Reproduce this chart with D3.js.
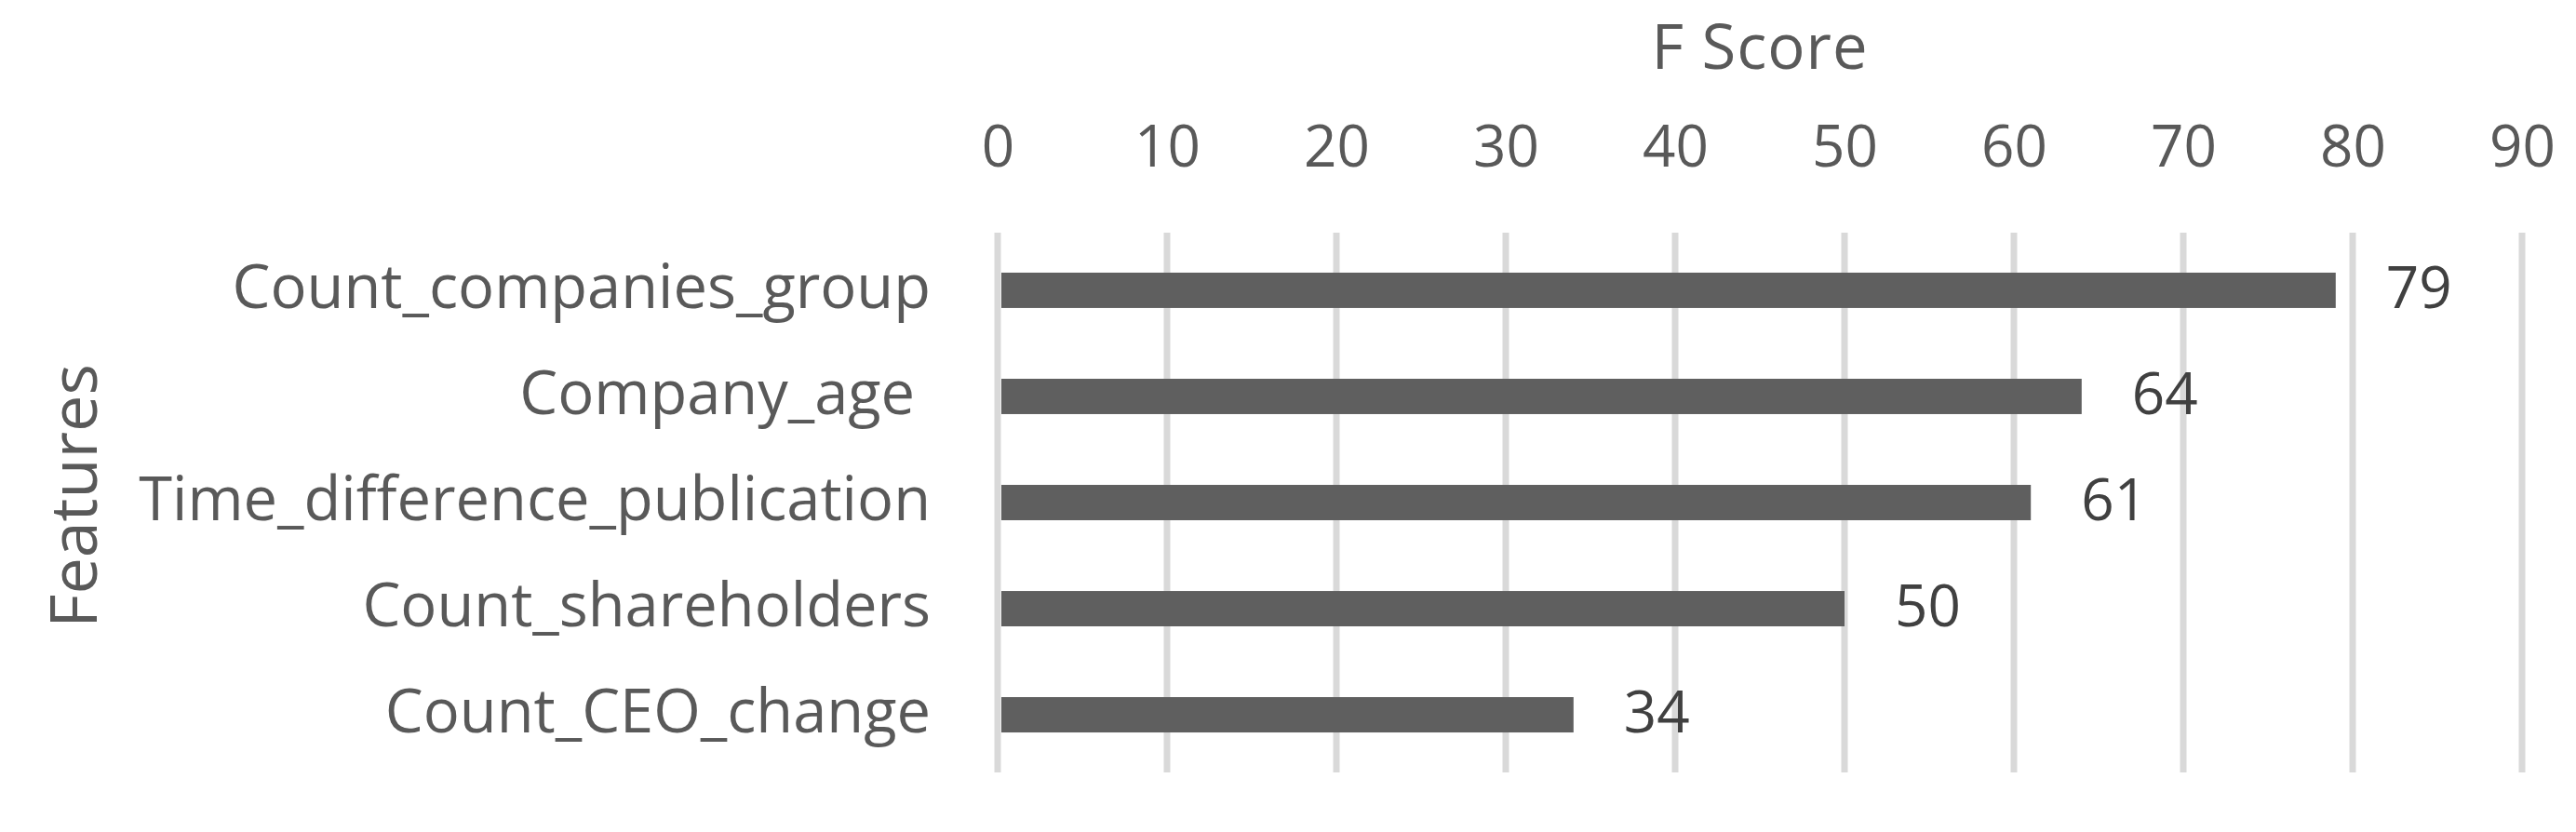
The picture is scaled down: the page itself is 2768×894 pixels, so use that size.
<!DOCTYPE html>
<html>
<head>
<meta charset="utf-8">
<script src="https://cdn.jsdelivr.net/npm/d3@7"></script>
<style>
  body { margin: 0; background: #fff; }
  text { font-family: "Open Sans", Lato, sans-serif; }
</style>
</head>
<body>
<div id="chart"></div>
<script>
// chart data
var features = ["Count_companies_group", "Company_age ", "Time_difference_publication", "Count_shareholders", "Count_CEO_change"];
var fScores = [79, 64, 61, 50, 34];
var xTicks = [0, 10, 20, 30, 40, 50, 60, 70, 80, 90];

var W = 2768, H = 894;
var plot = { left: 1072, right: 2710, top: 255, bottom: 825 };

var svg = d3.select("#chart")
    .append("svg")
    .attr("width", W)
    .attr("height", H);

var x = d3.scaleLinear()
    .domain([0, 90])
    .range([plot.left, plot.right]);

var y = d3.scaleBand()
    .domain(features)
    .range([plot.top, plot.bottom])
    .paddingInner(0.667)
    .paddingOuter(0.333);

// gridlines
svg.append("g")
    .selectAll("line")
    .data(xTicks)
    .enter()
    .append("line")
    .attr("x1", function (d) { return x(d); })
    .attr("x2", function (d) { return x(d); })
    .attr("y1", plot.top - 5)
    .attr("y2", plot.bottom + 5)
    .style("stroke", "#d9d9d9")
    .style("stroke-width", 7);

// top axis labels
var xAxis = svg.append("g")
    .attr("transform", "translate(0,179)")
    .call(d3.axisTop(x).tickValues(xTicks).tickSize(0).tickPadding(0));
xAxis.select(".domain").remove();
xAxis.selectAll("text")
    .style("font-size", "62px")
    .style("fill", "#595959")
    .attr("dy", 0);

// bars
svg.append("g")
    .selectAll("rect")
    .data(fScores)
    .enter()
    .append("rect")
    .attr("x", x(0) + 4)
    .attr("y", function (d, i) { return y(features[i]); })
    .attr("width", function (d) { return x(d) - x(0) - 4; })
    .attr("height", y.bandwidth())
    .style("fill", "#5f5f5f");

// value labels
svg.append("g")
    .selectAll("text")
    .data(fScores)
    .enter()
    .append("text")
    .attr("x", function (d) { return x(d) + 54; })
    .attr("y", function (d, i) { return y(features[i]) + y.bandwidth() / 2 + 19; })
    .style("font-size", "62px")
    .style("fill", "#404040")
    .text(function (d) { return d; });

// category labels
svg.append("g")
    .selectAll("text")
    .data(features)
    .enter()
    .append("text")
    .attr("x", 1000)
    .attr("y", function (d) { return y(d) + y.bandwidth() / 2 + 19; })
    .attr("text-anchor", "end")
    .style("font-size", "65px")
    .style("fill", "#595959")
    .style("white-space", "pre")
    .text(function (d) { return d; });

// axis titles
svg.append("text")
    .attr("x", (plot.left + plot.right) / 2)
    .attr("y", 74)
    .attr("text-anchor", "middle")
    .style("font-size", "67px")
    .style("letter-spacing", "1px")
    .style("fill", "#595959")
    .text("F Score");

svg.append("text")
    .attr("transform", "translate(104,533) rotate(-90)")
    .attr("text-anchor", "middle")
    .style("font-size", "70px")
    .style("fill", "#595959")
    .text("Features");
</script>
</body>
</html>
